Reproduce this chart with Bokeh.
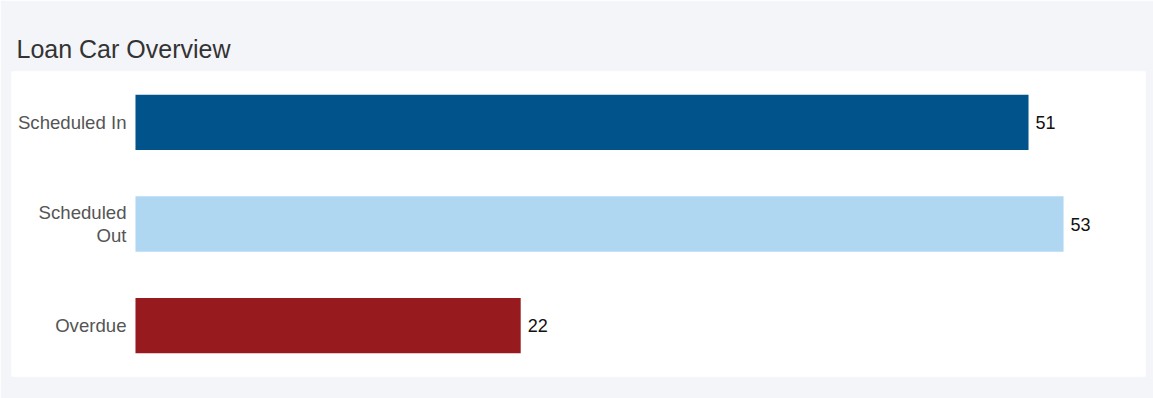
from bokeh.plotting import figure
from bokeh.models import ColumnDataSource, FactorRange, Range1d, Title
from bokeh.core.properties import value
from bokeh.embed import file_html
from bokeh.resources import INLINE

categories = ["Scheduled In", "Scheduled\nOut", "Overdue"]
counts = [51, 53, 22]
colors = ["#00538b", "#b0d7f2", "#971b1e"]
title_text = "Loan Car Overview"

FONT = "Liberation Sans"

src = ColumnDataSource(dict(
    cat=categories,
    val=counts,
    col=colors,
    lab=[str(v) for v in counts],
    zero=[0] * len(counts),
))

p = figure(
    width=1153, height=398,
    y_range=FactorRange(factors=categories[::-1]),
    x_range=Range1d(-7.08, 57.68),
    output_backend="svg", toolbar_location=None,
    min_border_left=11, min_border_right=8, min_border_bottom=22, min_border_top=71,
)
p.title = Title(text=title_text, text_font=FONT, text_font_size="25px",
                text_color="#333333", text_font_style="normal", align="left",
                offset=5, standoff=17)

p.border_fill_color = "#f4f5f9"
p.background_fill_color = "#ffffff"
p.outline_line_color = None
p.xaxis.visible = False
p.yaxis.visible = False
p.xgrid.visible = False
p.ygrid.visible = False

p.hbar(y="cat", right="val", left=0, height=0.545, fill_color="col", line_color=None, source=src)

p.text(x="zero", y="cat", text="cat", source=src, x_offset=-9,
       text_align="right", text_baseline="middle",
       text_font=value(FONT), text_font_size="18.6px", text_color="#555555",
       text_line_height=1.12)

p.text(x="val", y="cat", text="lab", source=src, x_offset=7,
       text_align="left", text_baseline="middle",
       text_font=value(FONT), text_font_size="18px", text_color="#111111")

open("out.html", "w").write(file_html(p, INLINE))
